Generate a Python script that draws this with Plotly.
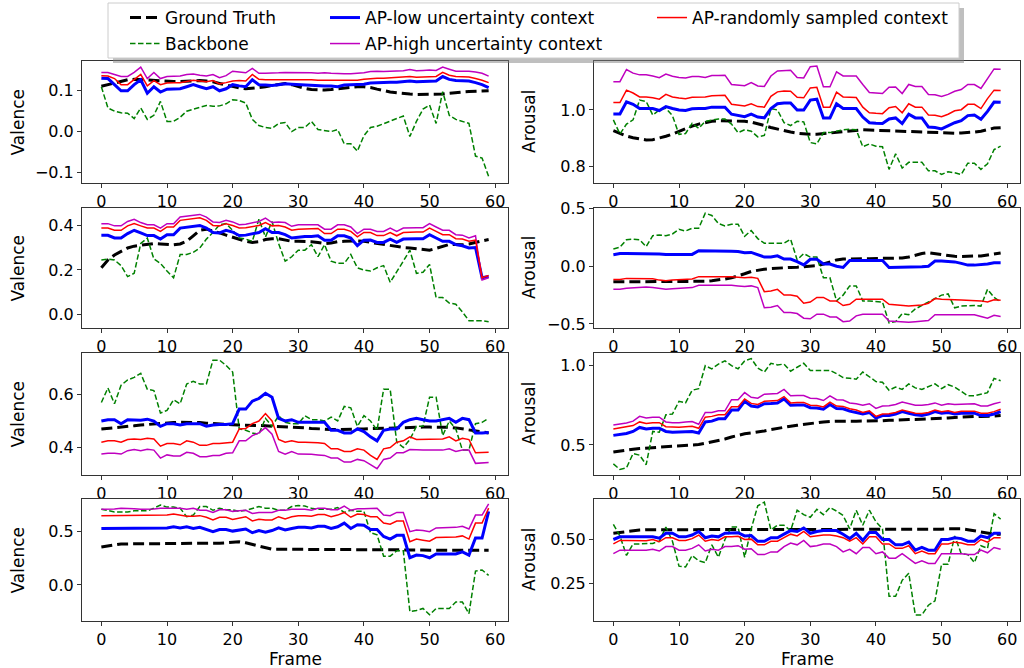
import plotly.graph_objects as go

frames = list(range(60))
x_tickvals = [0, 10, 20, 30, 40, 50, 60]
x_ticktext = ["0", "10", "20", "30", "40", "50", "60"]

# ---------------- Row 1 ----------------
val1_gt = [0.111, 0.115, 0.12, 0.124, 0.127, 0.128, 0.127, 0.126, 0.125, 0.125,
           0.124, 0.123, 0.123, 0.124, 0.125, 0.125, 0.124, 0.122, 0.118, 0.114,
           0.11, 0.107, 0.105, 0.106, 0.108, 0.11, 0.113, 0.116, 0.118, 0.115,
           0.11, 0.106, 0.103, 0.102, 0.102, 0.103, 0.105, 0.107, 0.109, 0.11,
           0.11, 0.108, 0.104, 0.1, 0.097, 0.095, 0.093, 0.092, 0.091, 0.091,
           0.091, 0.091, 0.092, 0.094, 0.096, 0.097, 0.098, 0.099, 0.1, 0.1]
val1_bb = [0.11, 0.058, 0.05, 0.046, 0.045, 0.032, 0.058, 0.03, 0.04, 0.074,
           0.025, 0.025, 0.035, 0.05, 0.055, 0.06, 0.064, 0.062, 0.063, 0.068,
           0.078, 0.076, 0.07, 0.03, 0.015, 0.01, 0.008, 0.02, 0.022, 0.0,
           0.01, 0.01, 0.025, 0.005, 0.003, 0.0, 0.005, -0.03, -0.03, -0.048,
           -0.01, 0.01, 0.013, 0.02, 0.027, 0.032, 0.038, -0.012, 0.025, 0.055,
           0.065, 0.02, 0.098, 0.04, 0.03, 0.025, 0.02, -0.06, -0.065, -0.11]
val1_low = [0.131, 0.13, 0.115, 0.1, 0.1, 0.115, 0.127, 0.094, 0.11, 0.097,
            0.104, 0.105, 0.105, 0.11, 0.115, 0.11, 0.105, 0.11, 0.1, 0.105,
            0.115, 0.112, 0.11, 0.127, 0.115, 0.114, 0.113, 0.115, 0.117, 0.116,
            0.115, 0.114, 0.113, 0.113, 0.112, 0.112, 0.11, 0.114, 0.115, 0.115,
            0.116, 0.119, 0.12, 0.12, 0.121, 0.121, 0.122, 0.124, 0.122, 0.123,
            0.124, 0.124, 0.135, 0.128, 0.125, 0.125, 0.124, 0.12, 0.115, 0.108]
val1_high = [0.145, 0.145, 0.14, 0.135, 0.135, 0.145, 0.158, 0.13, 0.145, 0.13,
             0.135, 0.136, 0.136, 0.14, 0.141, 0.138, 0.136, 0.14, 0.132, 0.137,
             0.148, 0.146, 0.144, 0.155, 0.143, 0.143, 0.143, 0.144, 0.145, 0.145,
             0.145, 0.145, 0.144, 0.143, 0.144, 0.143, 0.142, 0.142, 0.142, 0.143,
             0.144, 0.147, 0.148, 0.147, 0.148, 0.148, 0.149, 0.152, 0.149, 0.15,
             0.151, 0.15, 0.158, 0.153, 0.148, 0.148, 0.148, 0.146, 0.143, 0.136]
val1_rand = [0.137, 0.136, 0.13, 0.115, 0.115, 0.127, 0.14, 0.112, 0.125, 0.115,
             0.119, 0.12, 0.12, 0.123, 0.126, 0.124, 0.122, 0.125, 0.117, 0.12,
             0.124, 0.125, 0.124, 0.14, 0.128, 0.127, 0.127, 0.127, 0.128, 0.128,
             0.128, 0.127, 0.127, 0.126, 0.126, 0.126, 0.125, 0.126, 0.126, 0.126,
             0.128, 0.13, 0.131, 0.131, 0.132, 0.132, 0.133, 0.135, 0.133, 0.134,
             0.135, 0.135, 0.145, 0.138, 0.135, 0.135, 0.134, 0.13, 0.126, 0.12]

aro1_gt = [0.927, 0.918, 0.908, 0.902, 0.897, 0.894, 0.895, 0.9, 0.907, 0.915,
           0.925, 0.935, 0.943, 0.95, 0.955, 0.96, 0.962, 0.962, 0.962, 0.962,
           0.96, 0.957, 0.952, 0.945, 0.938, 0.932, 0.926, 0.922, 0.918, 0.915,
           0.914, 0.914, 0.916, 0.918, 0.92, 0.923, 0.926, 0.928, 0.93, 0.929,
           0.928, 0.928, 0.927, 0.926, 0.925, 0.924, 0.922, 0.921, 0.92, 0.92,
           0.919, 0.918, 0.918, 0.919, 0.92, 0.922, 0.925, 0.93, 0.936, 0.937]
aro1_bb = [0.965, 0.915, 0.95, 0.965, 1.035, 1.03, 0.982, 1.0, 1.006, 0.98,
           0.914, 0.917, 0.953, 0.935, 0.96, 0.965, 0.968, 0.968, 0.95, 0.92,
           0.93, 0.925, 0.905, 0.91, 1.005, 1.0, 0.955, 0.945, 0.96, 0.958,
           0.885, 0.88, 0.92, 0.92, 0.925, 0.93, 0.932, 0.93, 0.87, 0.88,
           0.872, 0.87, 0.79, 0.845, 0.795, 0.815, 0.815, 0.815, 0.785, 0.785,
           0.772, 0.782, 0.778, 0.772, 0.812, 0.812, 0.79, 0.81, 0.86, 0.872]
aro1_low = [0.986, 0.986, 1.029, 1.02, 1.005, 1.005, 1.005, 0.998, 1.012, 1.005,
            1.0, 0.998, 1.004, 1.005, 1.005, 1.01, 1.01, 1.01, 0.985, 0.98,
            0.976, 0.985, 0.975, 0.972, 1.005, 1.022, 1.025, 1.025, 1.0, 1.0,
            1.035, 1.038, 0.972, 0.972, 1.022, 1.005, 1.005, 1.005, 0.975, 0.955,
            0.953, 0.952, 0.968, 0.972, 0.952, 0.985, 0.972, 0.972, 0.94, 0.938,
            0.933, 0.943, 0.955, 0.962, 0.98, 0.982, 0.967, 0.995, 1.028, 1.027]
aro1_high = [1.1, 1.1, 1.143, 1.13, 1.124, 1.124, 1.12, 1.114, 1.127, 1.119,
             1.115, 1.113, 1.118, 1.118, 1.115, 1.122, 1.122, 1.123, 1.09, 1.088,
             1.086, 1.097, 1.085, 1.083, 1.12, 1.138, 1.14, 1.14, 1.115, 1.113,
             1.153, 1.155, 1.082, 1.082, 1.135, 1.12, 1.12, 1.12, 1.09, 1.062,
             1.06, 1.058, 1.08, 1.081, 1.058, 1.09, 1.083, 1.083, 1.055, 1.054,
             1.048, 1.055, 1.066, 1.072, 1.09, 1.09, 1.076, 1.11, 1.145, 1.144]
aro1_rand = [1.026, 1.026, 1.07, 1.06, 1.046, 1.046, 1.043, 1.038, 1.055, 1.046,
             1.042, 1.04, 1.045, 1.045, 1.046, 1.05, 1.05, 1.052, 1.02, 1.016,
             1.014, 1.022, 1.012, 1.01, 1.048, 1.064, 1.067, 1.066, 1.045, 1.043,
             1.078, 1.08, 1.01, 1.01, 1.063, 1.046, 1.046, 1.044, 1.01, 0.99,
             0.988, 0.987, 1.008, 1.012, 0.99, 1.022, 1.01, 1.01, 0.982, 0.981,
             0.976, 0.985, 0.997, 1.001, 1.02, 1.02, 1.005, 1.04, 1.07, 1.069]

# ---------------- Row 2 ----------------
val2_gt = [0.21, 0.245, 0.268, 0.285, 0.3, 0.308, 0.312, 0.318, 0.32, 0.318,
           0.315, 0.314, 0.318, 0.33, 0.355, 0.38, 0.385, 0.378, 0.368, 0.358,
           0.348, 0.338, 0.33, 0.325, 0.328, 0.338, 0.342, 0.342, 0.335, 0.33,
           0.33, 0.33, 0.328, 0.325, 0.32, 0.322, 0.328, 0.33, 0.332, 0.332,
           0.33, 0.325, 0.32, 0.315, 0.31, 0.305, 0.302, 0.3, 0.296, 0.292,
           0.29, 0.298, 0.308, 0.316, 0.315, 0.314, 0.318, 0.326, 0.332, 0.338]
val2_bb = [0.245, 0.25, 0.245, 0.22, 0.17, 0.185, 0.32, 0.345, 0.25, 0.23,
           0.195, 0.165, 0.27, 0.27, 0.28, 0.3, 0.34, 0.37, 0.405, 0.41,
           0.38, 0.345, 0.34, 0.33, 0.43, 0.35, 0.42, 0.32, 0.24, 0.26,
           0.29, 0.29, 0.315, 0.26, 0.315, 0.24, 0.23, 0.23, 0.27, 0.21,
           0.2, 0.195, 0.21, 0.22, 0.144, 0.195, 0.24, 0.29, 0.185, 0.19,
           0.225, 0.075, 0.075, 0.05, 0.045, 0.01, -0.03, -0.03, -0.03, -0.035]
val2_low = [0.357, 0.357, 0.345, 0.345, 0.365, 0.38, 0.368, 0.356, 0.356, 0.34,
            0.36, 0.36, 0.39, 0.393, 0.398, 0.402, 0.39, 0.37, 0.368, 0.38,
            0.372, 0.356, 0.358, 0.365, 0.37, 0.387, 0.37, 0.37, 0.36, 0.345,
            0.35, 0.352, 0.352, 0.355, 0.335, 0.335, 0.355, 0.355, 0.345, 0.31,
            0.335, 0.336, 0.325, 0.325, 0.34, 0.325, 0.34, 0.342, 0.342, 0.342,
            0.36, 0.345, 0.33, 0.33, 0.315, 0.31, 0.3, 0.302, 0.165, 0.17]
val2_high = [0.41, 0.41, 0.4, 0.4, 0.42, 0.43, 0.415, 0.405, 0.405, 0.39,
             0.41, 0.41, 0.44, 0.443, 0.448, 0.452, 0.44, 0.418, 0.415, 0.425,
             0.418, 0.405, 0.407, 0.415, 0.42, 0.435, 0.415, 0.418, 0.415, 0.398,
             0.405, 0.405, 0.405, 0.405, 0.385, 0.385, 0.405, 0.405, 0.395, 0.365,
             0.385, 0.385, 0.375, 0.375, 0.39, 0.375, 0.39, 0.392, 0.392, 0.392,
             0.41, 0.395, 0.38, 0.38, 0.36, 0.358, 0.345, 0.355, 0.155, 0.165]
val2_rand = [0.39, 0.39, 0.38, 0.38, 0.4, 0.41, 0.4, 0.39, 0.39, 0.375,
             0.395, 0.395, 0.425, 0.428, 0.433, 0.437, 0.425, 0.402, 0.4, 0.41,
             0.402, 0.39, 0.392, 0.397, 0.402, 0.415, 0.4, 0.402, 0.395, 0.38,
             0.385, 0.386, 0.386, 0.388, 0.365, 0.365, 0.385, 0.385, 0.375, 0.35,
             0.37, 0.37, 0.356, 0.356, 0.37, 0.355, 0.37, 0.372, 0.372, 0.372,
             0.39, 0.375, 0.36, 0.36, 0.342, 0.34, 0.33, 0.335, 0.165, 0.175]

aro2_gt = [-0.135, -0.135, -0.135, -0.135, -0.135, -0.135, -0.135, -0.135, -0.135, -0.135,
           -0.135, -0.135, -0.135, -0.133, -0.13, -0.125, -0.12, -0.11, -0.1, -0.085,
           -0.065, -0.045, -0.032, -0.025, -0.02, -0.015, -0.012, -0.01, -0.008, -0.005,
           -0.003, 0.005, 0.02, 0.04, 0.055, 0.062, 0.065, 0.066, 0.066, 0.066,
           0.066, 0.066, 0.066, 0.068, 0.072, 0.08, 0.095, 0.11, 0.118, 0.11,
           0.098, 0.09, 0.086, 0.085, 0.085, 0.085, 0.09, 0.098, 0.108, 0.115]
aro2_bb = [0.15, 0.165, 0.23, 0.235, 0.23, 0.17, 0.265, 0.27, 0.265, 0.28,
           0.32, 0.305, 0.33, 0.33, 0.46, 0.44, 0.37, 0.35, 0.365, 0.365,
           0.26, 0.31, 0.24, 0.2, 0.2, 0.2, 0.2, 0.235, 0.055, 0.11,
           0.08, 0.08, -0.1, -0.1, -0.3, -0.25, -0.17, -0.17, -0.3, -0.3,
           -0.305, -0.31, -0.49, -0.48, -0.41, -0.42, -0.37, -0.34, -0.31, -0.28,
           -0.25, -0.24, -0.36, -0.345, -0.34, -0.34, -0.345, -0.2, -0.27, -0.31]
aro2_low = [0.1, 0.11, 0.11, 0.11, 0.11, 0.108, 0.108, 0.107, 0.102, 0.102,
            0.102, 0.103, 0.103, 0.135, 0.135, 0.133, 0.13, 0.13, 0.13, 0.128,
            0.118, 0.12, 0.1, 0.08, 0.08, 0.09, 0.062, 0.062, 0.04, 0.012,
            0.06, 0.06, 0.02, 0.02, 0.0, -0.01, 0.05, 0.05, 0.05, 0.05,
            0.05, 0.05, -0.01, -0.01, -0.008, -0.008, -0.005, -0.005, 0.0, 0.045,
            0.045, 0.04, 0.038, 0.025, 0.01, 0.01, 0.012, 0.02, 0.03, 0.03]
aro2_high = [-0.2, -0.2, -0.19, -0.185, -0.185, -0.18, -0.185, -0.19, -0.2, -0.195,
             -0.19, -0.19, -0.185, -0.165, -0.165, -0.162, -0.162, -0.165, -0.165, -0.17,
             -0.175, -0.17, -0.185, -0.36, -0.355, -0.34, -0.4, -0.4, -0.41, -0.45,
             -0.455, -0.415, -0.415, -0.44, -0.44, -0.48, -0.475, -0.43, -0.415, -0.415,
             -0.415, -0.415, -0.475, -0.478, -0.485, -0.485, -0.48, -0.475, -0.47, -0.42,
             -0.42, -0.42, -0.42, -0.42, -0.42, -0.42, -0.435, -0.45, -0.425, -0.435]
aro2_rand = [-0.115, -0.115, -0.105, -0.105, -0.105, -0.105, -0.108, -0.12, -0.125, -0.118,
             -0.115, -0.115, -0.11, -0.09, -0.09, -0.088, -0.088, -0.09, -0.09, -0.095,
             -0.1, -0.095, -0.105, -0.22, -0.215, -0.2, -0.25, -0.25, -0.26, -0.32,
             -0.31, -0.27, -0.27, -0.3, -0.3, -0.34, -0.33, -0.285, -0.285, -0.285,
             -0.285, -0.285, -0.33, -0.335, -0.34, -0.345, -0.34, -0.335, -0.32, -0.28,
             -0.285, -0.29, -0.29, -0.292, -0.295, -0.295, -0.3, -0.31, -0.29, -0.295]

# ---------------- Row 3 ----------------
val3_gt = [0.47, 0.472, 0.475, 0.477, 0.48, 0.482, 0.485, 0.487, 0.49, 0.49,
           0.492, 0.494, 0.495, 0.495, 0.495, 0.494, 0.492, 0.49, 0.488, 0.487,
           0.486, 0.485, 0.485, 0.484, 0.483, 0.482, 0.481, 0.48, 0.479, 0.478,
           0.476, 0.474, 0.472, 0.47, 0.469, 0.468, 0.468, 0.468, 0.469, 0.47,
           0.47, 0.471, 0.472, 0.473, 0.474, 0.475, 0.476, 0.477, 0.477, 0.477,
           0.477, 0.477, 0.477, 0.476, 0.474, 0.47, 0.466, 0.462, 0.458, 0.455]
val3_bb = [0.57, 0.625, 0.565, 0.635, 0.655, 0.665, 0.68, 0.62, 0.615, 0.53,
           0.54, 0.58, 0.565, 0.64, 0.65, 0.64, 0.64, 0.73, 0.73, 0.71,
           0.685, 0.47, 0.465, 0.455, 0.45, 0.51, 0.48, 0.52, 0.495, 0.49,
           0.49, 0.52, 0.505, 0.505, 0.5, 0.515, 0.5, 0.555, 0.55, 0.48,
           0.52, 0.5, 0.465, 0.62, 0.62, 0.42, 0.4, 0.43, 0.48, 0.48,
           0.59, 0.59, 0.445, 0.5, 0.47, 0.39, 0.39, 0.49, 0.495, 0.51]
val3_low = [0.5, 0.505, 0.505, 0.49, 0.505, 0.503, 0.503, 0.507, 0.5, 0.48,
            0.49, 0.49, 0.485, 0.49, 0.49, 0.49, 0.48, 0.485, 0.487, 0.487,
            0.49, 0.545, 0.545, 0.575, 0.585, 0.605, 0.59, 0.51, 0.5, 0.505,
            0.495, 0.495, 0.495, 0.495, 0.495, 0.465, 0.465, 0.455, 0.455, 0.47,
            0.46, 0.44, 0.425, 0.465, 0.47, 0.47, 0.495, 0.505, 0.51, 0.505,
            0.5, 0.5, 0.505, 0.51, 0.495, 0.51, 0.505, 0.455, 0.455, 0.457]
val3_high = [0.375, 0.378, 0.378, 0.375, 0.388, 0.392, 0.388, 0.393, 0.39, 0.36,
             0.372, 0.368, 0.368, 0.382, 0.378, 0.365, 0.365, 0.37, 0.37, 0.378,
             0.38, 0.425, 0.425, 0.445, 0.455, 0.475, 0.45, 0.385, 0.375, 0.385,
             0.375, 0.375, 0.374, 0.372, 0.37, 0.36, 0.36, 0.345, 0.345, 0.355,
             0.35, 0.335, 0.32, 0.355, 0.36, 0.38, 0.38, 0.392, 0.39, 0.39,
             0.39, 0.39, 0.39, 0.395, 0.385, 0.39, 0.39, 0.34, 0.342, 0.343]
val3_rand = [0.42, 0.425, 0.425, 0.42, 0.43, 0.432, 0.43, 0.435, 0.432, 0.405,
             0.415, 0.415, 0.41, 0.425, 0.42, 0.408, 0.408, 0.415, 0.415, 0.418,
             0.42, 0.47, 0.472, 0.49, 0.5, 0.528, 0.5, 0.43, 0.42, 0.425,
             0.42, 0.42, 0.42, 0.418, 0.415, 0.395, 0.395, 0.385, 0.385, 0.395,
             0.39, 0.37, 0.355, 0.395, 0.4, 0.42, 0.425, 0.44, 0.43, 0.43,
             0.43, 0.43, 0.432, 0.44, 0.425, 0.435, 0.43, 0.38, 0.38, 0.382]

aro3_gt = [0.455, 0.462, 0.468, 0.473, 0.477, 0.48, 0.483, 0.486, 0.488, 0.49,
           0.492, 0.494, 0.497, 0.502, 0.51, 0.518, 0.527, 0.537, 0.55, 0.562,
           0.57, 0.575, 0.58, 0.588, 0.597, 0.605, 0.612, 0.618, 0.624, 0.63,
           0.636, 0.641, 0.645, 0.648, 0.65, 0.65, 0.65, 0.65, 0.65, 0.65,
           0.65, 0.652, 0.655, 0.658, 0.66, 0.66, 0.661, 0.662, 0.663, 0.665,
           0.667, 0.67, 0.673, 0.676, 0.678, 0.68, 0.68, 0.68, 0.682, 0.685]
aro3_bb = [0.38, 0.345, 0.355, 0.445, 0.435, 0.375, 0.585, 0.58, 0.69, 0.695,
           0.775, 0.765, 0.845, 0.855, 1.0, 0.98, 1.01, 1.03, 1.0, 0.98,
           1.03, 1.045, 0.985, 0.96, 1.015, 1.005, 1.01, 0.965, 0.99, 1.015,
           0.97, 0.97, 0.97, 0.97, 0.95, 0.925, 0.92, 0.915, 0.96, 0.93,
           0.9, 0.895, 0.845, 0.865, 0.85, 0.885, 0.86, 0.85, 0.865, 0.885,
           0.855, 0.88, 0.865, 0.84, 0.81, 0.81, 0.82, 0.83, 0.92, 0.905]
aro3_low = [0.56, 0.568, 0.572, 0.585, 0.61, 0.6, 0.605, 0.605, 0.585, 0.58,
            0.58, 0.583, 0.585, 0.575, 0.645, 0.65, 0.665, 0.665, 0.72, 0.72,
            0.775, 0.745, 0.74, 0.76, 0.762, 0.765, 0.79, 0.75, 0.752, 0.752,
            0.735, 0.733, 0.725, 0.755, 0.73, 0.728, 0.713, 0.705, 0.695, 0.705,
            0.67, 0.685, 0.685, 0.695, 0.71, 0.7, 0.69, 0.685, 0.695, 0.71,
            0.7, 0.705, 0.695, 0.7, 0.7, 0.7, 0.685, 0.685, 0.695, 0.71]
aro3_high = [0.625, 0.632, 0.638, 0.65, 0.68, 0.67, 0.675, 0.675, 0.645, 0.64,
             0.64, 0.645, 0.647, 0.63, 0.705, 0.705, 0.715, 0.715, 0.785, 0.785,
             0.83, 0.8, 0.795, 0.82, 0.822, 0.825, 0.85, 0.81, 0.812, 0.812,
             0.795, 0.793, 0.78, 0.81, 0.785, 0.783, 0.765, 0.76, 0.75, 0.76,
             0.73, 0.745, 0.747, 0.755, 0.77, 0.76, 0.75, 0.75, 0.755, 0.765,
             0.75, 0.76, 0.755, 0.757, 0.76, 0.76, 0.745, 0.745, 0.76, 0.77]
aro3_rand = [0.6, 0.608, 0.612, 0.622, 0.645, 0.635, 0.64, 0.64, 0.615, 0.612,
             0.612, 0.615, 0.617, 0.605, 0.675, 0.68, 0.69, 0.69, 0.74, 0.74,
             0.79, 0.762, 0.755, 0.775, 0.777, 0.78, 0.805, 0.765, 0.768, 0.768,
             0.75, 0.748, 0.74, 0.77, 0.745, 0.743, 0.728, 0.72, 0.705, 0.715,
             0.68, 0.695, 0.697, 0.705, 0.72, 0.71, 0.7, 0.698, 0.705, 0.72,
             0.71, 0.715, 0.705, 0.712, 0.713, 0.713, 0.7, 0.7, 0.71, 0.725]

# ---------------- Row 4 ----------------
val4_gt = [0.355, 0.365, 0.375, 0.385, 0.385, 0.385, 0.385, 0.385, 0.385, 0.385,
           0.385, 0.385, 0.385, 0.39, 0.39, 0.39, 0.39, 0.39, 0.392, 0.395,
           0.4, 0.405, 0.395, 0.38, 0.365, 0.35, 0.335, 0.335, 0.335, 0.335,
           0.335, 0.335, 0.335, 0.335, 0.335, 0.335, 0.335, 0.335, 0.335, 0.335,
           0.335, 0.335, 0.335, 0.335, 0.335, 0.335, 0.33, 0.33, 0.328, 0.328,
           0.325, 0.325, 0.325, 0.325, 0.325, 0.325, 0.325, 0.325, 0.325, 0.325]
val4_bb = [0.71, 0.7, 0.685, 0.685, 0.685, 0.695, 0.695, 0.695, 0.72, 0.75,
           0.73, 0.73, 0.72, 0.64, 0.655, 0.735, 0.735, 0.7, 0.72, 0.705,
           0.705, 0.69, 0.7, 0.72, 0.735, 0.72, 0.72, 0.7, 0.7, 0.735,
           0.745, 0.74, 0.72, 0.71, 0.71, 0.71, 0.725, 0.68, 0.7, 0.69,
           0.69, 0.49, 0.47, 0.27, 0.27, 0.32, 0.32, -0.25, -0.24, -0.22,
           -0.28, -0.22, -0.22, -0.22, -0.16, -0.16, -0.27, 0.13, 0.14, 0.09]
val4_low = [0.53, 0.53, 0.532, 0.532, 0.532, 0.53, 0.53, 0.53, 0.535, 0.535,
            0.535, 0.545, 0.535, 0.545, 0.53, 0.54, 0.52, 0.5, 0.52, 0.52,
            0.505, 0.515, 0.525, 0.49, 0.51, 0.495, 0.51, 0.535, 0.515, 0.53,
            0.54, 0.54, 0.535, 0.55, 0.55, 0.53, 0.545, 0.58, 0.53, 0.565,
            0.56, 0.52, 0.52, 0.455, 0.43, 0.465, 0.465, 0.255, 0.28, 0.275,
            0.255, 0.29, 0.29, 0.29, 0.29, 0.31, 0.28, 0.44, 0.44, 0.69]
val4_high = [0.71, 0.71, 0.712, 0.72, 0.72, 0.715, 0.71, 0.71, 0.712, 0.72,
             0.72, 0.72, 0.72, 0.71, 0.72, 0.7, 0.7, 0.68, 0.705, 0.705,
             0.69, 0.695, 0.7, 0.67, 0.68, 0.68, 0.68, 0.7, 0.7, 0.71,
             0.71, 0.71, 0.7, 0.72, 0.72, 0.705, 0.705, 0.74, 0.7, 0.715,
             0.715, 0.715, 0.72, 0.655, 0.65, 0.68, 0.68, 0.5, 0.515, 0.51,
             0.5, 0.535, 0.535, 0.535, 0.54, 0.55, 0.525, 0.655, 0.655, 0.76]
val4_rand = [0.65, 0.65, 0.652, 0.652, 0.652, 0.65, 0.65, 0.65, 0.655, 0.655,
             0.655, 0.665, 0.652, 0.645, 0.645, 0.65, 0.635, 0.61, 0.635, 0.635,
             0.615, 0.625, 0.64, 0.6, 0.615, 0.61, 0.61, 0.64, 0.62, 0.64,
             0.65, 0.65, 0.645, 0.66, 0.66, 0.64, 0.655, 0.68, 0.635, 0.665,
             0.66, 0.64, 0.64, 0.58, 0.57, 0.6, 0.6, 0.405, 0.43, 0.42,
             0.41, 0.445, 0.445, 0.445, 0.45, 0.46, 0.43, 0.58, 0.58, 0.72]

aro4_gt = [0.535, 0.54, 0.545, 0.55, 0.553, 0.555, 0.555, 0.555, 0.555, 0.555,
           0.555, 0.555, 0.555, 0.555, 0.555, 0.555, 0.555, 0.555, 0.555, 0.555,
           0.555, 0.555, 0.555, 0.555, 0.555, 0.555, 0.555, 0.555, 0.555, 0.555,
           0.555, 0.555, 0.555, 0.555, 0.555, 0.555, 0.555, 0.555, 0.555, 0.555,
           0.555, 0.555, 0.555, 0.555, 0.555, 0.555, 0.555, 0.555, 0.555, 0.555,
           0.558, 0.56, 0.562, 0.56, 0.555, 0.548, 0.54, 0.533, 0.53, 0.53]
aro4_bb = [0.585, 0.52, 0.41, 0.475, 0.475, 0.475, 0.478, 0.49, 0.57, 0.49,
           0.35, 0.345, 0.41, 0.38, 0.37, 0.47, 0.4, 0.5, 0.57, 0.57,
           0.4, 0.56, 0.69, 0.71, 0.555, 0.58, 0.58, 0.55, 0.665, 0.64,
           0.625, 0.67, 0.64, 0.68, 0.66, 0.635, 0.56, 0.665, 0.58, 0.665,
           0.6, 0.56, 0.18, 0.18, 0.27, 0.31, 0.075, 0.075, 0.13, 0.155,
           0.36, 0.36, 0.52, 0.42, 0.415, 0.37, 0.465, 0.45, 0.645, 0.615]
aro4_low = [0.5, 0.515, 0.515, 0.515, 0.512, 0.512, 0.515, 0.507, 0.535, 0.535,
            0.515, 0.515, 0.525, 0.545, 0.51, 0.52, 0.515, 0.535, 0.535, 0.538,
            0.52, 0.522, 0.49, 0.49, 0.51, 0.51, 0.53, 0.55, 0.545, 0.565,
            0.535, 0.545, 0.55, 0.55, 0.55, 0.53, 0.505, 0.535, 0.495, 0.54,
            0.54, 0.5, 0.5, 0.47, 0.47, 0.485, 0.44, 0.455, 0.44, 0.44,
            0.5, 0.5, 0.51, 0.505, 0.49, 0.49, 0.52, 0.51, 0.535, 0.535]
aro4_high = [0.42, 0.44, 0.44, 0.44, 0.44, 0.44, 0.445, 0.435, 0.46, 0.46,
             0.44, 0.44, 0.45, 0.47, 0.435, 0.445, 0.44, 0.46, 0.46, 0.465,
             0.445, 0.448, 0.415, 0.415, 0.43, 0.43, 0.46, 0.48, 0.47, 0.495,
             0.46, 0.465, 0.475, 0.475, 0.46, 0.43, 0.445, 0.42, 0.455, 0.455,
             0.42, 0.43, 0.395, 0.395, 0.42, 0.39, 0.365, 0.38, 0.365, 0.365,
             0.42, 0.42, 0.42, 0.42, 0.415, 0.415, 0.44, 0.425, 0.455, 0.445]
aro4_rand = [0.475, 0.495, 0.495, 0.495, 0.493, 0.493, 0.5, 0.488, 0.51, 0.51,
             0.495, 0.495, 0.505, 0.525, 0.49, 0.5, 0.495, 0.515, 0.515, 0.518,
             0.5, 0.502, 0.47, 0.47, 0.49, 0.49, 0.51, 0.53, 0.52, 0.545,
             0.515, 0.52, 0.525, 0.525, 0.52, 0.51, 0.49, 0.51, 0.475, 0.515,
             0.515, 0.475, 0.475, 0.45, 0.45, 0.465, 0.42, 0.435, 0.42, 0.42,
             0.475, 0.475, 0.485, 0.48, 0.47, 0.47, 0.5, 0.485, 0.51, 0.51]

# y tick labels per panel
val1_ticks = [-0.1, 0.0, 0.1]
val1_ticktext = ["\u22120.1", "0.0", "0.1"]
aro1_ticks = [0.8, 1.0]
aro1_ticktext = ["0.8", "1.0"]
val2_ticks = [0.0, 0.2, 0.4]
val2_ticktext = ["0.0", "0.2", "0.4"]
aro2_ticks = [-0.5, 0.0, 0.5]
aro2_ticktext = ["\u22120.5", "0.0", "0.5"]
val3_ticks = [0.4, 0.6]
val3_ticktext = ["0.4", "0.6"]
aro3_ticks = [0.5, 1.0]
aro3_ticktext = ["0.5", "1.0"]
val4_ticks = [0.0, 0.5]
val4_ticktext = ["0.0", "0.5"]
aro4_ticks = [0.25, 0.50]
aro4_ticktext = ["0.25", "0.50"]

series_names = ["Ground Truth", "Backbone", "AP-low uncertainty context",
                "AP-high uncertainty context", "AP-randomly sampled context"]

panels = [
    (val1_gt, val1_bb, val1_low, val1_high, val1_rand, "Valence", [-0.126, 0.173], val1_ticks, val1_ticktext),
    (aro1_gt, aro1_bb, aro1_low, aro1_high, aro1_rand, "Arousal", [0.742, 1.173], aro1_ticks, aro1_ticktext),
    (val2_gt, val2_bb, val2_low, val2_high, val2_rand, "Valence", [-0.063, 0.481], val2_ticks, val2_ticktext),
    (aro2_gt, aro2_bb, aro2_low, aro2_high, aro2_rand, "Arousal", [-0.535, 0.505], aro2_ticks, aro2_ticktext),
    (val3_gt, val3_bb, val3_low, val3_high, val3_rand, "Valence", [0.296, 0.757], val3_ticks, val3_ticktext),
    (aro3_gt, aro3_bb, aro3_low, aro3_high, aro3_rand, "Arousal", [0.31, 1.08], aro3_ticks, aro3_ticktext),
    (val4_gt, val4_bb, val4_low, val4_high, val4_rand, "Valence", [-0.338, 0.806], val4_ticks, val4_ticktext),
    (aro4_gt, aro4_bb, aro4_low, aro4_high, aro4_rand, "Arousal", [0.041, 0.728], aro4_ticks, aro4_ticktext),
]

styles = {
    "Ground Truth": dict(color="black", width=3, dash="11px,5px"),
    "Backbone": dict(color="#008000", width=1.5, dash="5.5px,2.5px"),
    "AP-low uncertainty context": dict(color="#0000ff", width=3, dash="solid"),
    "AP-high uncertainty context": dict(color="#bf00bf", width=1.5, dash="solid"),
    "AP-randomly sampled context": dict(color="#ff0000", width=1.5, dash="solid"),
}
legend_ids = {
    "Ground Truth": "legend",
    "Backbone": "legend2",
    "AP-low uncertainty context": "legend3",
    "AP-high uncertainty context": "legend4",
    "AP-randomly sampled context": "legend5",
}

W, H = 1024, 668
col_px = [(82, 508), (594, 1020)]
row_px = [(61, 183), (208, 328), (353, 475), (499, 621)]
ylabel_x = [17.5, 529]

FONT = "DejaVu Sans"
TICK_FS = 16
LABEL_FS = 17

fig = go.Figure()
layout = {}
annotations = []
for i, (gt, bb, low, high, rand, ylabel, yr, tv, tt) in enumerate(panels):
    r, c = divmod(i, 2)
    xa = "x" if i == 0 else f"x{i+1}"
    ya = "y" if i == 0 else f"y{i+1}"
    for name, data in zip(series_names, [gt, bb, low, high, rand]):
        fig.add_trace(go.Scatter(
            x=frames, y=data, mode="lines", name=name,
            line=dict(**styles[name]),
            xaxis=xa, yaxis=ya,
            showlegend=(i == 0), legend=legend_ids[name],
        ))
    x0, x1 = col_px[c]
    t, b = row_px[r]
    common = dict(showline=True, mirror=True, linecolor="#333333", linewidth=1,
                  ticks="outside", ticklen=4, tickwidth=1, tickcolor="#333333",
                  showgrid=False, zeroline=False,
                  tickfont=dict(family=FONT, size=TICK_FS, color="black"))
    xkey = "xaxis" if i == 0 else f"xaxis{i+1}"
    ykey = "yaxis" if i == 0 else f"yaxis{i+1}"
    layout[xkey] = dict(domain=[x0 / W, x1 / W], anchor=ya, range=[-2.95, 61.95],
                        tickvals=x_tickvals, ticktext=x_ticktext, **common)
    layout[ykey] = dict(domain=[1 - b / H, 1 - t / H], anchor=xa, range=yr,
                        tickvals=tv, ticktext=tt, **common)
    # y axis label
    annotations.append(dict(text=ylabel, textangle=-90, xref="paper", yref="paper",
                            x=ylabel_x[c] / W, y=1 - (t + b) / 2 / H,
                            xanchor="center", yanchor="middle", showarrow=False,
                            font=dict(family=FONT, size=LABEL_FS, color="black")))
    if r == 3:
        annotations.append(dict(text="Frame", xref="paper", yref="paper",
                                x=(x0 + x1) / 2 / W, y=1 - 659 / H,
                                xanchor="center", yanchor="middle", showarrow=False,
                                font=dict(family=FONT, size=LABEL_FS, color="black")))

# legend: one legend per entry to mimic the matplotlib 3-column layout
leg_pos = {
    "legend": (125, 18),
    "legend2": (125, 44),
    "legend3": (325, 18),
    "legend4": (325, 44),
    "legend5": (652, 18),
}
for key, (px, py) in leg_pos.items():
    layout[key] = dict(x=px / W, y=1 - py / H, xanchor="left", yanchor="middle",
                       bgcolor="rgba(0,0,0,0)", borderwidth=0,
                       font=dict(family=FONT, size=LABEL_FS, color="black"),
                       itemwidth=30)

shapes = [
    dict(type="rect", xref="paper", yref="paper", layer="above",
         x0=113 / W, x1=964 / W, y0=1 - 63 / H, y1=1 - 8 / H,
         fillcolor="rgba(128,128,128,0.5)", line=dict(width=0)),
    dict(type="rect", xref="paper", yref="paper", layer="above",
         x0=108 / W, x1=959 / W, y0=1 - 58 / H, y1=1 - 3 / H,
         fillcolor="white", line=dict(color="#cccccc", width=1)),
]

fig.update_layout(
    width=W, height=H, margin=dict(l=0, r=0, t=0, b=0),
    template="none", paper_bgcolor="white", plot_bgcolor="white",
    font=dict(family=FONT, size=LABEL_FS, color="black"),
    shapes=shapes, annotations=annotations, **layout,
)

fig.write_html("out.html")
